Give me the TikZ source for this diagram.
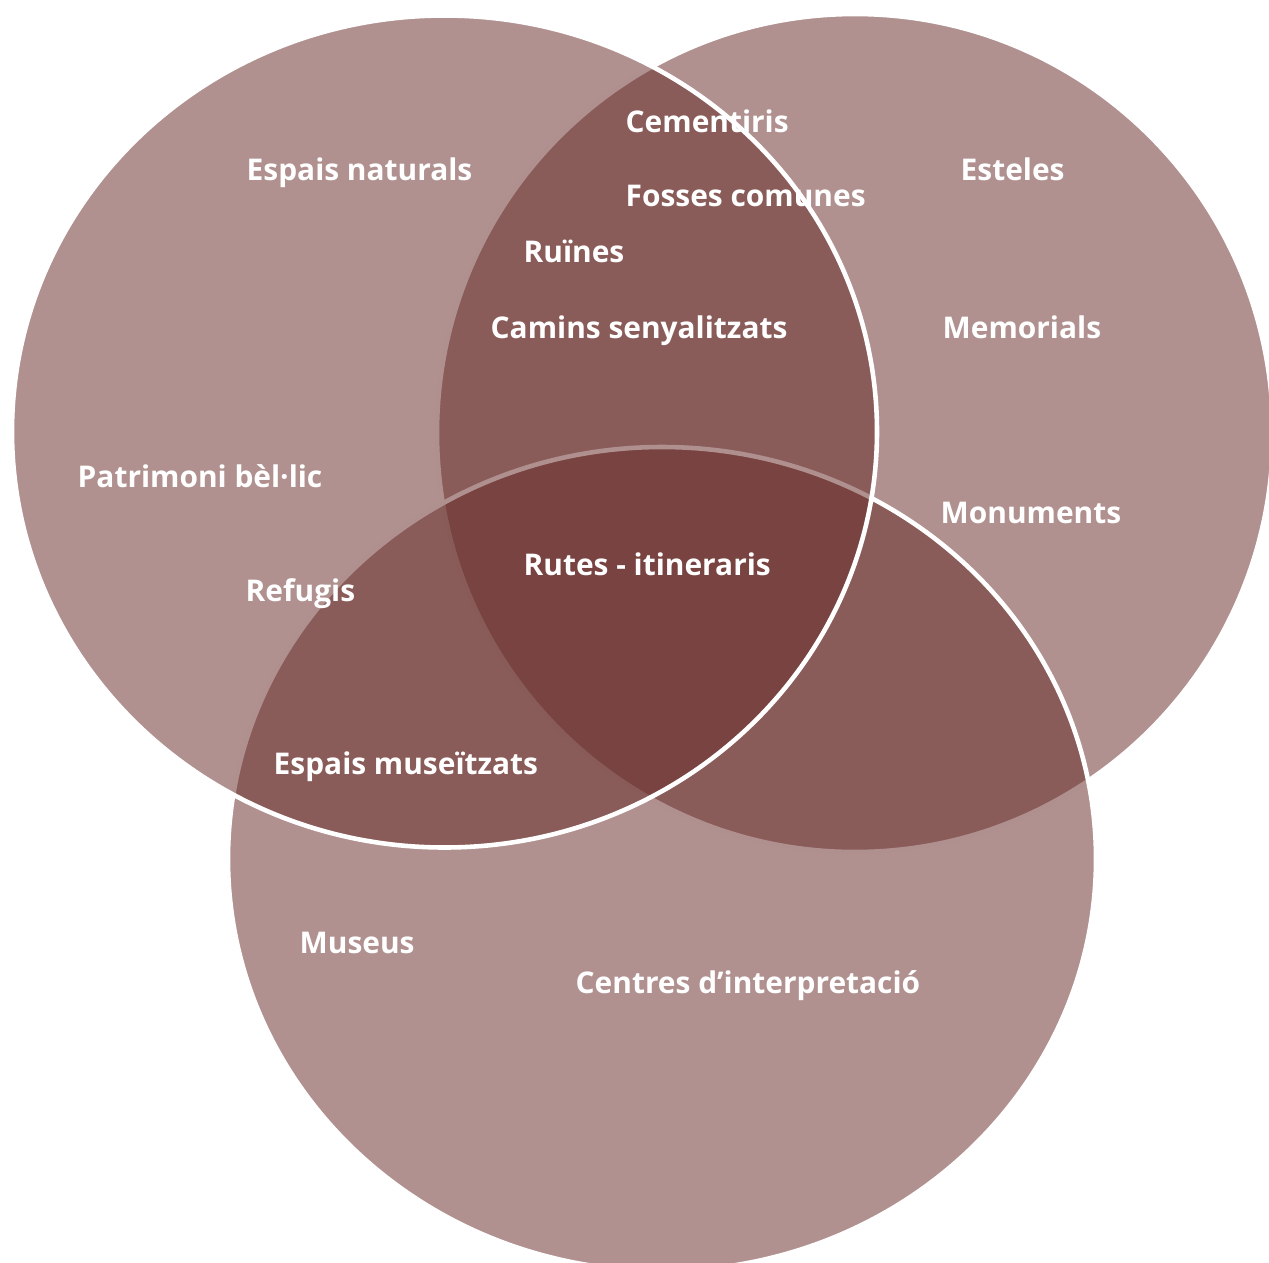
\documentclass[tikz,border=0pt]{standalone}
\usepackage{fontspec}
\setmainfont{Open Sans}
\usepackage{tikz}
\usetikzlibrary{positioning}
\definecolor{vennred}{RGB}{103,44,40}
\tikzstyle{venn}=[fill=vennred, fill opacity=0.52, draw=white, line width=1.3pt]
\tikzstyle{lbl}=[text=white, anchor=base west, inner sep=0pt,
    font=\bfseries\fontsize{8.5}{10}\selectfont]
\begin{document}
\begin{tikzpicture}[x=0.01cm, y=-0.01cm]
              \useasboundingbox (0,0) rectangle (1269,1263);
              \clip (0,0) rectangle (1269,1263);
              \path[venn] (855,433) ellipse [x radius=418, y radius=419];
              \path[venn] (662,859) ellipse [x radius=434, y radius=412];
              \path[venn] (444.5,431.5) ellipse [x radius=432.5, y radius=416];
              \node[lbl] (espnat) at (246,180){Espais naturals};
              \node[lbl] (patr) at (77,487){Patrimoni bèl·lic};
              \node[lbl] (refug) at (245,601){Refugis};
              \node[lbl] (cement) at (625,132){Cementiris};
              \node[lbl] (fosses) at (625,206){Fosses comunes};
              \node[lbl] (ruines) at (523,262){Ruïnes};
              \node[lbl] (camins) at (490,338){Camins senyalitzats};
              \node[lbl] (esteles) at (960,180){Esteles};
              \node[lbl] (memor) at (942,338){Memorials};
              \node[lbl] (monum) at (940,523){Monuments};
              \node[lbl] (rutes) at (523,575){Rutes - itineraris};
              \node[lbl] (espmus) at (273,774){Espais museïtzats};
              \node[lbl] (museus) at (299,953){Museus};
              \node[lbl] (centres) at (575,993){Centres d’interpretació};
            \end{tikzpicture}
\end{document}
